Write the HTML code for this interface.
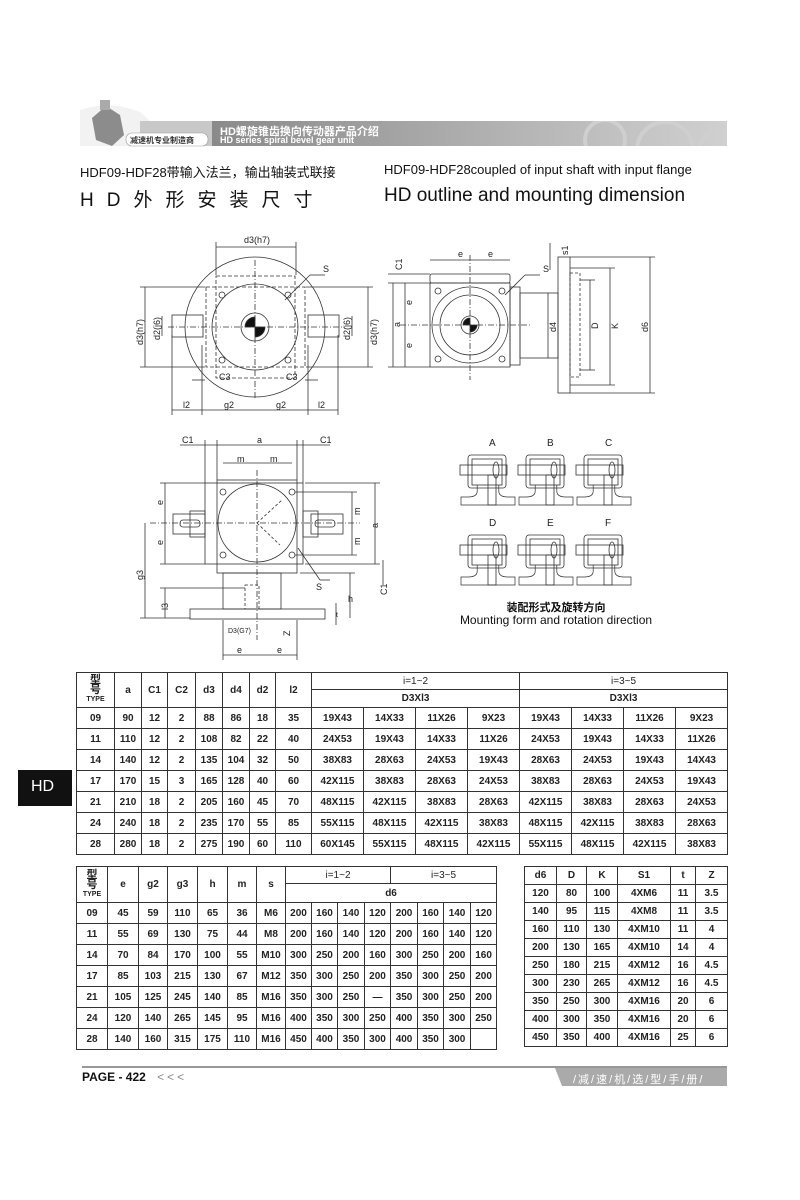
<!DOCTYPE html>
<html><head><meta charset="utf-8">
<style>
html,body{margin:0;padding:0;background:#fff;}
body{width:800px;height:1200px;position:relative;overflow:hidden;font-family:"Liberation Sans","Noto Sans CJK SC",sans-serif;color:#111;}
.abs{position:absolute;}
table{border-collapse:collapse;position:absolute;table-layout:fixed;}
td{border:1px solid #333;text-align:center;font-size:10px;padding:0;height:20px;line-height:11px;font-weight:bold;color:#222;}
.t3 td{height:17px;}
.ty{font-size:11px;line-height:10px;}
.ty small{font-size:7px;display:block;}
</style></head><body>

<svg class="abs" style="left:0;top:0" width="800" height="1200">
  <defs>
    <linearGradient id="g1" x1="0" x2="1">
      <stop offset="0" stop-color="#8a8a8a"/><stop offset="0.6" stop-color="#b5b5b5"/><stop offset="1" stop-color="#d0d0d0"/>
    </linearGradient>
    <clipPath id="bar"><rect x="212" y="121" width="515" height="25"/></clipPath>
  </defs>
  <path d="M80 110 Q110 100 140 112 L150 121 L727 121 L727 146 L80 146 Z" fill="#f2f2f2"/>
  <rect x="212" y="121" width="515" height="25" fill="url(#g1)"/>
  <path d="M140 121 L212 121 L212 146 L140 146 Z" fill="#c8c8c8"/>
  <g clip-path="url(#bar)" fill="none" stroke="#cfcfcf" stroke-width="4">
   <circle cx="605" cy="140" r="20"/>
   <circle cx="665" cy="150" r="28"/>
   <circle cx="722" cy="150" r="22"/>
  </g>
  <path d="M92 118 L106 106 L120 115 L124 135 L112 146 L96 140 Z" fill="#8c8c8c"/>
  <rect x="100" y="100" width="10" height="10" fill="#aaa"/>
  <rect x="126" y="133" width="82" height="13" rx="6" fill="#fff" stroke="#999" stroke-width="0.6"/>
  <line x1="82" y1="1067" x2="727" y2="1067" stroke="#777" stroke-width="1.5"/>
  <path d="M555 1068 L727 1068 L727 1086 L562 1086 Z" fill="#aaa"/>
  <rect x="18" y="770" width="54" height="36" fill="#111"/>
</svg>
<div class="abs" style="left:220px;top:123px;font-size:11px;font-weight:bold;color:#fff;">HD螺旋锥齿换向传动器产品介绍</div>
<div class="abs" style="left:220px;top:135px;font-size:9px;font-weight:bold;color:#fff">HD series spiral bevel gear unit</div>
<div class="abs" style="left:130px;top:135px;font-size:8px;font-weight:bold;color:#333">减速机专业制造商</div>

<div class="abs" style="left:80px;top:162px;font-size:13px;">HDF09-HDF28带输入法兰，输出轴装式联接</div>
<div class="abs" style="left:384px;top:162px;font-size:13px;">HDF09-HDF28coupled of input shaft with input flange</div>
<div class="abs" style="left:80px;top:185px;font-size:19px;letter-spacing:13px;">HD外形安装尺寸</div>
<div class="abs" style="left:384px;top:185px;font-size:19px;">HD outline and mounting dimension</div>

<div class="abs" style="left:31px;top:778px;font-size:16px;color:#fff;">HD</div>
<div class="abs" style="left:82px;top:1070px;font-size:12px;font-weight:bold;">PAGE - 422 <span style="font-weight:normal;color:#888;margin-left:8px;letter-spacing:3px">&lt;&lt;&lt;</span></div>
<div class="abs" style="left:573px;top:1071px;font-size:11px;color:#fff;letter-spacing:2px">/减/速/机/选/型/手/册/</div>

<svg class="abs" style="left:0;top:0" width="800" height="1200" font-family="Liberation Sans, sans-serif" font-size="9" fill="none" stroke="#333" stroke-width="0.8">
 <circle cx="255" cy="327" r="70"/>
 <circle cx="255" cy="327" r="43"/>
 <circle cx="255" cy="327" r="14"/>
 <path d="M255 317 A10 10 0 0 0 245 327 L255 327Z M255 337 A10 10 0 0 0 265 327 L255 327Z" fill="#111"/>
 <rect x="216" y="276" width="79" height="102" stroke-dasharray="4 2"/>
 <rect x="206" y="287" width="99" height="80" stroke-dasharray="4 2"/>
 <rect x="172" y="315" width="31" height="22"/>
 <rect x="308" y="315" width="31" height="22"/>
 <line x1="255" y1="260" x2="255" y2="400" stroke-dasharray="6 2 1 2"/>
 <line x1="168" y1="327" x2="345" y2="327" stroke-dasharray="6 2 1 2"/>
 <circle cx="222" cy="295" r="3"/><circle cx="288" cy="295" r="3"/><circle cx="222" cy="360" r="3"/><circle cx="288" cy="360" r="3"/>
 <line x1="216" y1="247" x2="296" y2="247"/><line x1="216" y1="242" x2="216" y2="275"/><line x1="296" y1="242" x2="296" y2="275"/>
 <line x1="145" y1="287" x2="145" y2="367"/><line x1="140" y1="287" x2="205" y2="287"/><line x1="140" y1="367" x2="205" y2="367"/>
 <line x1="162" y1="316" x2="162" y2="336"/>
 <line x1="368" y1="287" x2="368" y2="367"/><line x1="306" y1="287" x2="373" y2="287"/><line x1="306" y1="367" x2="373" y2="367"/>
 <line x1="352" y1="316" x2="352" y2="336"/>
 <line x1="172" y1="410" x2="338" y2="410"/>
 <line x1="172" y1="335" x2="172" y2="415"/><line x1="202" y1="345" x2="202" y2="415"/><line x1="308" y1="345" x2="308" y2="415"/><line x1="338" y1="335" x2="338" y2="415"/>
 <line x1="192" y1="380" x2="205" y2="380"/><line x1="305" y1="380" x2="318" y2="380"/>
 <line x1="285" y1="300" x2="310" y2="275"/><line x1="310" y1="275" x2="325" y2="275"/>
 <rect x="430" y="283" width="80" height="84"/>
 <rect x="430" y="274" width="80" height="9" rx="2"/>
 <circle cx="470" cy="325" r="38"/><circle cx="470" cy="325" r="30"/><circle cx="470" cy="325" r="9"/>
 <path d="M470 318 A7 7 0 0 0 463 325 L470 325Z M470 332 A7 7 0 0 0 477 325 L470 325Z" fill="#111"/>
 <circle cx="438" cy="291" r="3"/><circle cx="502" cy="291" r="3"/><circle cx="438" cy="359" r="3"/><circle cx="502" cy="359" r="3"/>
 <rect x="510" y="287" width="10" height="78"/>
 <rect x="520" y="293" width="38" height="65"/>
 <rect x="558" y="257" width="12" height="136"/>
 <rect x="570" y="273" width="10" height="104" stroke-dasharray="3 2"/>
 <line x1="470" y1="255" x2="470" y2="380" stroke-dasharray="6 2 1 2"/>
 <line x1="400" y1="325" x2="530" y2="325" stroke-dasharray="6 2 1 2"/>
 <line x1="430" y1="260" x2="510" y2="260"/>
 <line x1="393" y1="283" x2="393" y2="367"/><line x1="405" y1="283" x2="405" y2="367"/>
 <line x1="388" y1="283" x2="430" y2="283"/><line x1="388" y1="367" x2="430" y2="367"/><line x1="388" y1="274" x2="430" y2="274"/>
 <line x1="548" y1="293" x2="548" y2="358"/>
 <line x1="590" y1="280" x2="590" y2="370"/><line x1="580" y1="280" x2="595" y2="280"/><line x1="580" y1="370" x2="595" y2="370"/>
 <line x1="610" y1="268" x2="610" y2="385"/><line x1="570" y1="268" x2="615" y2="268"/><line x1="570" y1="385" x2="615" y2="385"/>
 <line x1="650" y1="257" x2="650" y2="393"/><line x1="570" y1="257" x2="655" y2="257"/><line x1="570" y1="393" x2="655" y2="393"/>
 <line x1="550" y1="243" x2="550" y2="270"/>
 <line x1="505" y1="295" x2="525" y2="275"/><line x1="525" y1="275" x2="540" y2="275"/>
 <rect x="205" y="483" width="98" height="81"/>
 <rect x="217" y="480" width="80" height="93"/>
 <circle cx="257" cy="523" r="39"/>
 <rect x="190" y="511" width="15" height="26"/><rect x="303" y="511" width="15" height="26"/>
 <rect x="173" y="514" width="32" height="20"/><rect x="311" y="514" width="32" height="20"/>
 <rect x="180" y="520" width="20" height="7" rx="3"/><rect x="315" y="520" width="20" height="7" rx="3"/>
 <rect x="223" y="573" width="58" height="36"/>
 <rect x="190" y="609" width="135" height="10"/>
 <rect x="245" y="585" width="14" height="24" stroke-dasharray="3 2"/>
 <circle cx="223" cy="492" r="3"/><circle cx="292" cy="492" r="3"/><circle cx="223" cy="555" r="3"/><circle cx="292" cy="555" r="3"/>
 <line x1="257" y1="470" x2="257" y2="640" stroke-dasharray="6 2 1 2"/>
 <line x1="150" y1="523" x2="360" y2="523" stroke-dasharray="6 2 1 2"/>
 <line x1="257" y1="523" x2="282" y2="500" stroke-dasharray="3 2"/><line x1="257" y1="523" x2="280" y2="545" stroke-dasharray="3 2"/>
 <line x1="180" y1="445" x2="330" y2="445"/>
 <line x1="205" y1="440" x2="205" y2="483"/><line x1="217" y1="440" x2="217" y2="480"/><line x1="297" y1="440" x2="297" y2="480"/><line x1="303" y1="440" x2="303" y2="483"/>
 <line x1="223" y1="463" x2="292" y2="463"/>
 <line x1="165" y1="483" x2="165" y2="564"/><line x1="160" y1="483" x2="205" y2="483"/><line x1="160" y1="564" x2="205" y2="564"/>
 <line x1="145" y1="523" x2="145" y2="618"/><line x1="140" y1="618" x2="190" y2="618"/>
 <line x1="165" y1="588" x2="165" y2="618"/><line x1="160" y1="588" x2="245" y2="588"/>
 <line x1="352" y1="492" x2="352" y2="555"/><line x1="295" y1="492" x2="357" y2="492"/><line x1="295" y1="555" x2="357" y2="555"/>
 <line x1="375" y1="483" x2="375" y2="564"/><line x1="305" y1="483" x2="380" y2="483"/><line x1="305" y1="564" x2="380" y2="564"/>
 <line x1="350" y1="573" x2="350" y2="618"/><line x1="300" y1="573" x2="355" y2="573"/>
 <line x1="383" y1="560" x2="383" y2="585"/>
 <line x1="336" y1="603" x2="336" y2="625"/>
 <line x1="223" y1="655" x2="297" y2="655"/><line x1="223" y1="620" x2="223" y2="660"/><line x1="297" y1="620" x2="297" y2="660"/>
 <line x1="298" y1="548" x2="320" y2="580"/><line x1="320" y1="580" x2="330" y2="580"/>
 <g stroke="none" fill="#222" font-size="9">
  <text x="244" y="243">d3(h7)</text><text x="323" y="272">S</text>
  <text x="219" y="380">C3</text><text x="286" y="380">C3</text>
  <text x="183" y="408">l2</text><text x="224" y="408">g2</text><text x="276" y="408">g2</text><text x="318" y="408">l2</text>
  <text transform="translate(143,345) rotate(-90)">d3(h7)</text><text transform="translate(160,340) rotate(-90)">d2(j6)</text>
  <text transform="translate(350,340) rotate(-90)">d2(j6)</text><text transform="translate(377,345) rotate(-90)">d3(h7)</text>
  <text x="458" y="257">e</text><text x="488" y="257">e</text><text x="543" y="272">S</text>
  <text transform="translate(402,270) rotate(-90)">C1</text><text transform="translate(568,255) rotate(-90)">s1</text>
  <text transform="translate(400,327) rotate(-90)">a</text><text transform="translate(412,305) rotate(-90)">e</text><text transform="translate(412,348) rotate(-90)">e</text>
  <text transform="translate(556,332) rotate(-90)">d4</text><text transform="translate(598,329) rotate(-90)">D</text><text transform="translate(618,329) rotate(-90)">K</text><text transform="translate(648,332) rotate(-90)">d6</text>
  <text x="182" y="443">C1</text><text x="257" y="443">a</text><text x="320" y="443">C1</text>
  <text x="237" y="462">m</text><text x="270" y="462">m</text>
  <text transform="translate(163,505) rotate(-90)">e</text><text transform="translate(163,545) rotate(-90)">e</text>
  <text transform="translate(143,580) rotate(-90)">g3</text><text transform="translate(168,610) rotate(-90)">l3</text>
  <text transform="translate(360,515) rotate(-90)">m</text><text transform="translate(360,545) rotate(-90)">m</text><text transform="translate(378,528) rotate(-90)">a</text>
  <text transform="translate(387,595) rotate(-90)">C1</text><text x="348" y="602">h</text><text x="336" y="617" font-size="7">t</text>
  <text x="316" y="590">S</text><text x="228" y="633" font-size="7">D3(G7)</text><text transform="translate(290,636) rotate(-90)">Z</text>
  <text x="237" y="653">e</text><text x="277" y="653">e</text>
  <text x="489" y="446" font-size="10">A</text><text x="547" y="446" font-size="10">B</text><text x="605" y="446" font-size="10">C</text>
  <text x="489" y="526" font-size="10">D</text><text x="547" y="526" font-size="10">E</text><text x="605" y="526" font-size="10">F</text>
 </g>
 <defs>
  <g id="ic">
   <rect x="8" y="0" width="38" height="33" rx="3"/><rect x="12" y="4" width="30" height="26"/>
   <rect x="0" y="10" width="47" height="10"/>
   <rect x="28" y="20" width="8" height="30"/>
   <path d="M20 30 L20 36 Q20 42 10 42 L2 42 L2 50 L62 50 L62 42 L54 42 Q44 42 44 36 L44 30" transform="translate(-8 0) scale(0.9 1) translate(8 0)"/>
   <ellipse cx="36" cy="15" rx="3" ry="8"/>
  </g>
 </defs>
 <use href="#ic" x="460" y="455"/><use href="#ic" x="518" y="455"/><use href="#ic" x="576" y="455"/>
 <use href="#ic" x="460" y="535"/><use href="#ic" x="518" y="535"/><use href="#ic" x="576" y="535"/>
</svg>
<div class="abs" style="left:450px;top:599px;width:212px;text-align:center;font-size:11px;font-weight:bold;">装配形式及旋转方向</div>
<div class="abs" style="left:440px;top:613px;width:232px;text-align:center;font-size:12px;">Mounting form and rotation direction</div>

<table style="left:76px;top:672px;width:651px;">
<colgroup><col style="width:38px"><col style="width:27px"><col style="width:26px"><col style="width:28px"><col style="width:27px"><col style="width:27px"><col style="width:26px"><col style="width:36px">
<col style="width:52px"><col style="width:52px"><col style="width:52px"><col style="width:52px"><col style="width:52px"><col style="width:52px"><col style="width:52px"><col style="width:52px"></colgroup>
<tr><td rowspan="2" class="ty" style="height:34px">型<br>号<small>TYPE</small></td><td rowspan="2">a</td><td rowspan="2">C1</td><td rowspan="2">C2</td><td rowspan="2">d3</td><td rowspan="2">d4</td><td rowspan="2">d2</td><td rowspan="2">l2</td><td colspan="4" style="height:16px;font-weight:normal">i=1~2</td><td colspan="4" style="height:16px;font-weight:normal">i=3~5</td></tr>
<tr><td colspan="4" style="height:17px">D3Xl3</td><td colspan="4" style="height:17px">D3Xl3</td></tr>
<tr><td>09</td><td>90</td><td>12</td><td>2</td><td>88</td><td>86</td><td>18</td><td>35</td><td>19X43</td><td>14X33</td><td>11X26</td><td>9X23</td><td>19X43</td><td>14X33</td><td>11X26</td><td>9X23</td></tr>
<tr><td>11</td><td>110</td><td>12</td><td>2</td><td>108</td><td>82</td><td>22</td><td>40</td><td>24X53</td><td>19X43</td><td>14X33</td><td>11X26</td><td>24X53</td><td>19X43</td><td>14X33</td><td>11X26</td></tr>
<tr><td>14</td><td>140</td><td>12</td><td>2</td><td>135</td><td>104</td><td>32</td><td>50</td><td>38X83</td><td>28X63</td><td>24X53</td><td>19X43</td><td>28X63</td><td>24X53</td><td>19X43</td><td>14X43</td></tr>
<tr><td>17</td><td>170</td><td>15</td><td>3</td><td>165</td><td>128</td><td>40</td><td>60</td><td>42X115</td><td>38X83</td><td>28X63</td><td>24X53</td><td>38X83</td><td>28X63</td><td>24X53</td><td>19X43</td></tr>
<tr><td>21</td><td>210</td><td>18</td><td>2</td><td>205</td><td>160</td><td>45</td><td>70</td><td>48X115</td><td>42X115</td><td>38X83</td><td>28X63</td><td>42X115</td><td>38X83</td><td>28X63</td><td>24X53</td></tr>
<tr><td>24</td><td>240</td><td>18</td><td>2</td><td>235</td><td>170</td><td>55</td><td>85</td><td>55X115</td><td>48X115</td><td>42X115</td><td>38X83</td><td>48X115</td><td>42X115</td><td>38X83</td><td>28X63</td></tr>
<tr><td>28</td><td>280</td><td>18</td><td>2</td><td>275</td><td>190</td><td>60</td><td>110</td><td>60X145</td><td>55X115</td><td>48X115</td><td>42X115</td><td>55X115</td><td>48X115</td><td>42X115</td><td>38X83</td></tr>
</table>

<table style="left:76px;top:866px;width:420px;">
<colgroup><col style="width:31px"><col style="width:31px"><col style="width:29px"><col style="width:30px"><col style="width:30px"><col style="width:29px"><col style="width:29px">
<col style="width:26px"><col style="width:26px"><col style="width:27px"><col style="width:26px"><col style="width:27px"><col style="width:26px"><col style="width:27px"><col style="width:26px"></colgroup>
<tr><td rowspan="2" class="ty" style="height:35px">型<br>号<small>TYPE</small></td><td rowspan="2">e</td><td rowspan="2">g2</td><td rowspan="2">g3</td><td rowspan="2">h</td><td rowspan="2">m</td><td rowspan="2">s</td><td colspan="4" style="height:16px;font-weight:normal">i=1~2</td><td colspan="4" style="height:16px;font-weight:normal">i=3~5</td></tr>
<tr><td colspan="8" style="height:18px">d6</td></tr>
<tr><td>09</td><td>45</td><td>59</td><td>110</td><td>65</td><td>36</td><td>M6</td><td>200</td><td>160</td><td>140</td><td>120</td><td>200</td><td>160</td><td>140</td><td>120</td></tr>
<tr><td>11</td><td>55</td><td>69</td><td>130</td><td>75</td><td>44</td><td>M8</td><td>200</td><td>160</td><td>140</td><td>120</td><td>200</td><td>160</td><td>140</td><td>120</td></tr>
<tr><td>14</td><td>70</td><td>84</td><td>170</td><td>100</td><td>55</td><td>M10</td><td>300</td><td>250</td><td>200</td><td>160</td><td>300</td><td>250</td><td>200</td><td>160</td></tr>
<tr><td>17</td><td>85</td><td>103</td><td>215</td><td>130</td><td>67</td><td>M12</td><td>350</td><td>300</td><td>250</td><td>200</td><td>350</td><td>300</td><td>250</td><td>200</td></tr>
<tr><td>21</td><td>105</td><td>125</td><td>245</td><td>140</td><td>85</td><td>M16</td><td>350</td><td>300</td><td>250</td><td>—</td><td>350</td><td>300</td><td>250</td><td>200</td></tr>
<tr><td>24</td><td>120</td><td>140</td><td>265</td><td>145</td><td>95</td><td>M16</td><td>400</td><td>350</td><td>300</td><td>250</td><td>400</td><td>350</td><td>300</td><td>250</td></tr>
<tr><td>28</td><td>140</td><td>160</td><td>315</td><td>175</td><td>110</td><td>M16</td><td>450</td><td>400</td><td>350</td><td>300</td><td>400</td><td>350</td><td>300</td><td></td></tr>
</table>

<table class="t3" style="left:524px;top:866px;width:203px;">
<colgroup><col style="width:32px"><col style="width:30px"><col style="width:31px"><col style="width:53px"><col style="width:25px"><col style="width:32px"></colgroup>
<tr><td>d6</td><td>D</td><td>K</td><td>S1</td><td>t</td><td>Z</td></tr>
<tr><td>120</td><td>80</td><td>100</td><td>4XM6</td><td>11</td><td>3.5</td></tr>
<tr><td>140</td><td>95</td><td>115</td><td>4XM8</td><td>11</td><td>3.5</td></tr>
<tr><td>160</td><td>110</td><td>130</td><td>4XM10</td><td>11</td><td>4</td></tr>
<tr><td>200</td><td>130</td><td>165</td><td>4XM10</td><td>14</td><td>4</td></tr>
<tr><td>250</td><td>180</td><td>215</td><td>4XM12</td><td>16</td><td>4.5</td></tr>
<tr><td>300</td><td>230</td><td>265</td><td>4XM12</td><td>16</td><td>4.5</td></tr>
<tr><td>350</td><td>250</td><td>300</td><td>4XM16</td><td>20</td><td>6</td></tr>
<tr><td>400</td><td>300</td><td>350</td><td>4XM16</td><td>20</td><td>6</td></tr>
<tr><td>450</td><td>350</td><td>400</td><td>4XM16</td><td>25</td><td>6</td></tr>
</table>
</body></html>
